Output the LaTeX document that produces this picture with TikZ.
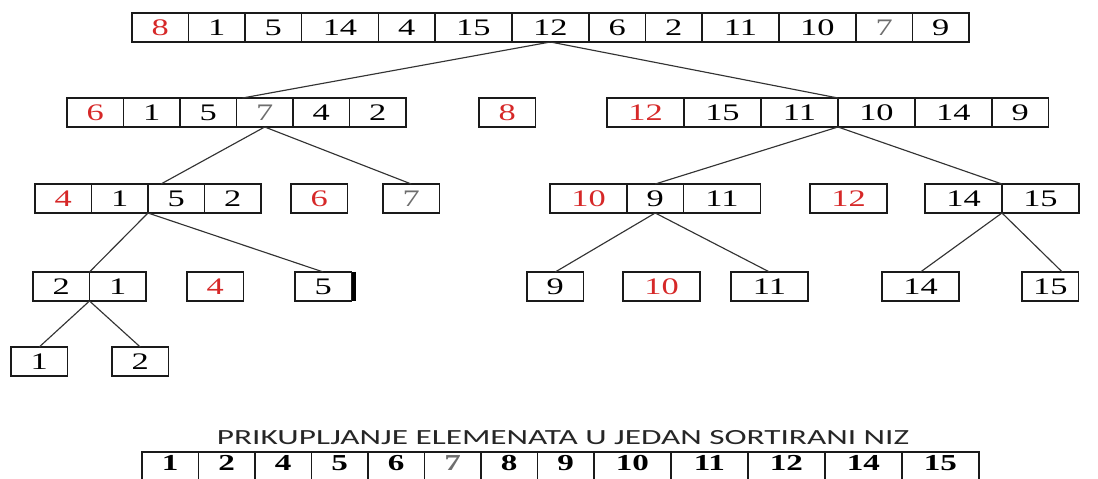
\documentclass[tikz,border=0pt]{standalone}
\usepackage{fontspec}
\usetikzlibrary{positioning}
\newfontfamily\numfont[FakeStretch=1.45]{Liberation Serif}
\newfontfamily\capfont[FakeStretch=1.54]{Carlito}
\definecolor{pivotRed}{HTML}{D62828}
\definecolor{cellLine}{HTML}{1A1A1A}
\definecolor{linkGray}{HTML}{333333}
\definecolor{paleDigit}{HTML}{6E6E6E}
\tikzset{
  cell/.style={rectangle,draw=cellLine,line width=0.75pt,outer sep=0pt,inner sep=0pt,
    minimum width=1.13cm,minimum height=0.58cm,font=\numfont\fontsize{13.5}{15}\selectfont},
  wcell/.style={cell,minimum width=1.54cm},
  pivot/.style={text=pivotRed},
  pale/.style={text=paleDigit},
  sorted/.style={cell,text depth=0.14cm,font=\numfont\bfseries\fontsize{13}{15}\selectfont},
  wsorted/.style={sorted,minimum width=1.54cm},
  link/.style={draw=linkGray,line width=0.65pt}
}

\begin{document}
\begin{tikzpicture}[x=0.02cm,y=-0.02cm]
\useasboundingbox (0,0) rectangle (1098,479);

% starting array
\node[cell,pivot,anchor=north west] (t8) at (132,13) {8};
\node[cell,right=0pt of t8] (t1) {1};
\node[cell,right=0pt of t1] (t5) {5};
\node[wcell,right=0pt of t5] (t14) {14};
\node[cell,right=0pt of t14] (t4) {4};
\node[wcell,right=0pt of t4] (t15) {15};
\node[wcell,right=0pt of t15] (t12) {12};
\node[cell,right=0pt of t12] (t6) {6};
\node[cell,right=0pt of t6] (t2) {2};
\node[wcell,right=0pt of t2] (t11) {11};
\node[wcell,right=0pt of t11] (t10) {10};
\node[cell,pale,right=0pt of t10] (t7) {7};
\node[cell,right=0pt of t7] (t9) {9};

% first split
\node[cell,pivot,anchor=north west] (a6) at (67,98) {6};
\node[cell,right=0pt of a6] (a1) {1};
\node[cell,right=0pt of a1] (a5) {5};
\node[cell,pale,right=0pt of a5] (a7) {7};
\node[cell,right=0pt of a7] (a4) {4};
\node[cell,right=0pt of a4] (a2) {2};
\node[cell,pivot,anchor=north west] (b8) at (479,98) {8};
\node[wcell,pivot,anchor=north west] (c12) at (607,98) {12};
\node[wcell,right=0pt of c12] (c15) {15};
\node[wcell,right=0pt of c15] (c11) {11};
\node[wcell,right=0pt of c11] (c10) {10};
\node[wcell,right=0pt of c10] (c14) {14};
\node[cell,right=0pt of c14] (c9) {9};

% second split
\node[cell,pivot,anchor=north west] (d4) at (35,184) {4};
\node[cell,right=0pt of d4] (d1) {1};
\node[cell,right=0pt of d1] (d5) {5};
\node[cell,right=0pt of d5] (d2) {2};
\node[cell,pivot,anchor=north west] (e6) at (291,184) {6};
\node[cell,pale,anchor=north west] (e7) at (383,184) {7};
\node[wcell,pivot,anchor=north west] (f10) at (550,184) {10};
\node[cell,right=0pt of f10] (f9) {9};
\node[wcell,right=0pt of f9] (f11) {11};
\node[wcell,pivot,anchor=north west] (g12) at (810,184) {12};
\node[wcell,anchor=north west] (h14) at (925,184) {14};
\node[wcell,right=0pt of h14] (h15) {15};

% third split
\node[cell,anchor=north west] (i2) at (33,272) {2};
\node[cell,right=0pt of i2] (i1) {1};
\node[cell,pivot,anchor=north west] (j4) at (187,272) {4};
\node[cell,anchor=north west] (j5) at (295,272) {5};
\node[cell,anchor=north west] (k9) at (527,272) {9};
\node[wcell,pivot,anchor=north west] (k10) at (623,272) {10};
\node[wcell,anchor=north west] (k11) at (731,272) {11};
\node[wcell,anchor=north west] (m14) at (882,272) {14};
\node[cell,anchor=north west] (m15) at (1022,272) {15};

% last split
\node[cell,anchor=north west] (n1) at (11,347) {1};
\node[cell,anchor=north west] (n2) at (112,347) {2};

\draw[link] (t12.south) -- ([xshift=0.12cm]a7.north west);
\draw[link] (t12.south) -- (c11.north east);
\draw[link] (a7.south) -- ([xshift=0.26cm]d5.north west);
\draw[link] (a7.south) -- (e7.north);
\draw[link] (c11.south east) -- (f9.north);
\draw[link] (c11.south east) -- (h14.north east);
\draw[link] (d1.south east) -- (i2.north east);
\draw[link] (d1.south east) -- (j5.north);
\draw[link] (i2.south east) -- (n1.north);
\draw[link] (i2.south east) -- (n2.north);
\draw[link] (f9.south) -- (k9.north);
\draw[link] (f9.south) -- (k11.north);
\draw[link] (h14.south east) -- (m14.north);
\draw[link] (h14.south east) -- ([xshift=0.24cm]m15.north);
\draw[line width=2.2pt] ([xshift=0.05cm]j5.north east) -- ([xshift=0.05cm]j5.south east);

% merged result
\node[font=\capfont\fontsize{12.3}{14}\selectfont,text=black!85,anchor=base] (title) at (563,444) {PRIKUPLJANJE ELEMENATA U JEDAN SORTIRANI NIZ};
\node[sorted,anchor=north west] (s1) at (142,452) {1};
\node[sorted,right=0pt of s1] (s2) {2};
\node[sorted,right=0pt of s2] (s4) {4};
\node[sorted,right=0pt of s4] (s5) {5};
\node[sorted,right=0pt of s5] (s6) {6};
\node[sorted,pale,right=0pt of s6] (s7) {7};
\node[sorted,right=0pt of s7] (s8) {8};
\node[sorted,right=0pt of s8] (s9) {9};
\node[wsorted,right=0pt of s9] (s10) {10};
\node[wsorted,right=0pt of s10] (s11) {11};
\node[wsorted,right=0pt of s11] (s12) {12};
\node[wsorted,right=0pt of s12] (s14) {14};
\node[wsorted,right=0pt of s14] (s15) {15};
\end{tikzpicture}
\end{document}
